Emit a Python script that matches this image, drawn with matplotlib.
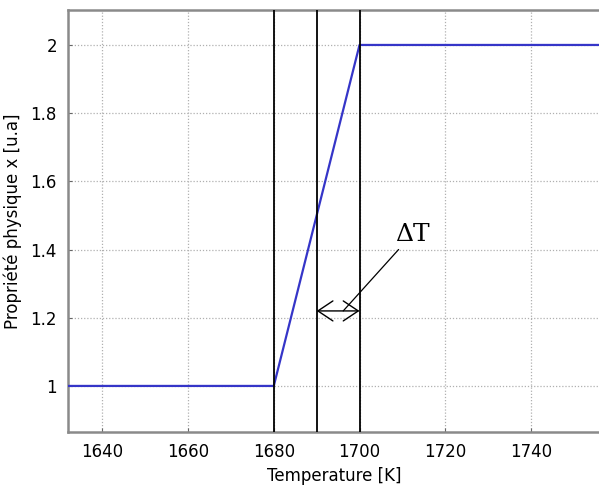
import matplotlib
matplotlib.use("Agg")
import matplotlib.pyplot as plt

temperature = [1620, 1680, 1700, 1780]
propriete = [1.0, 1.0, 2.0, 2.0]
vlines_T = [1680, 1690, 1700]
xticks = [1640, 1660, 1680, 1700, 1720, 1740]
yticks = [1, 1.2, 1.4, 1.6, 1.8, 2]
ytick_labels = ["1", "1.2", "1.4", "1.6", "1.8", "2"]

fig = plt.figure(figsize=(5.99, 4.92), dpi=100)
ax = fig.add_axes([0.1135, 0.122, 0.8875, 0.858])

ax.plot(temperature, propriete, color="#3535c8", lw=1.6, zorder=3)
for t in vlines_T:
    ax.axvline(t, color="black", lw=1.3, zorder=4)

ax.set_xlim(1632, 1756)
ax.set_ylim(0.865, 2.103)
ax.set_xticks(xticks)
ax.set_yticks(yticks)
ax.set_yticklabels(ytick_labels)
ax.grid(True, color="#b0b0b0", linestyle=(0, (1, 1.5)), lw=0.9)
ax.tick_params(labelsize=12, length=3, color="#666666", direction="in", pad=8)

for s in ["left", "bottom", "top"]:
    ax.spines[s].set_color("#8a8a8a")
    ax.spines[s].set_linewidth(1.8)
ax.spines["right"].set_visible(False)

ax.set_xlabel("Temperature [K]", fontsize=12, labelpad=4)
ax.set_ylabel("Propriété physique x [u.a]", fontsize=12, labelpad=6)

# Delta T double arrow
ax.annotate("", xy=(1690, 1.22), xytext=(1700, 1.22),
            arrowprops=dict(arrowstyle="<->,head_length=0.6,head_width=0.4",
                            color="black", lw=1.0, mutation_scale=18,
                            shrinkA=0, shrinkB=0), zorder=5)
ax.annotate("ΔT", xy=(1696.2, 1.22), xytext=(1708.3, 1.445),
            fontsize=18, family="DejaVu Serif", ha="left", va="center",
            arrowprops=dict(arrowstyle="-", color="black", lw=0.9, shrinkA=1, shrinkB=0))

fig.savefig("out.png", dpi=100)
